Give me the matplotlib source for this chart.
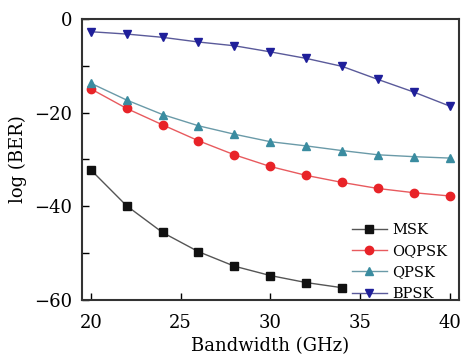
import matplotlib
matplotlib.use("Agg")
import matplotlib.pyplot as plt
from matplotlib.ticker import MultipleLocator

bandwidth = [20, 22, 24, 26, 28, 30, 32, 34, 36, 38, 40]
msk = [-32.2, -39.9, -45.6, -49.7, -52.8, -54.8, -56.3, -57.4]
oqpsk = [-14.9, -19.1, -22.6, -26.0, -29.0, -31.5, -33.4, -34.9, -36.2, -37.1, -37.8]
qpsk = [-13.7, -17.3, -20.4, -22.8, -24.6, -26.2, -27.1, -28.1, -29.0, -29.4, -29.7]
bpsk = [-2.7, -3.2, -3.9, -4.9, -5.7, -7.0, -8.4, -10.1, -12.9, -15.6, -18.6]

plt.rcParams['font.family'] = ['DejaVu Serif']

fig = plt.figure(figsize=(4.62, 3.6), dpi=100)
ax = fig.add_axes([0.177, 0.167, 0.816, 0.780])

series = [
    ("MSK", bandwidth[:len(msk)], msk, 's', '#111111', '#555555'),
    ("OQPSK", bandwidth, oqpsk, 'o', '#e82328', '#e85a5e'),
    ("QPSK", bandwidth, qpsk, '^', '#3a8ca0', '#6a9aa8'),
    ("BPSK", bandwidth, bpsk, 'v', '#1f1f9a', '#5a5a9a'),
]
for name, xs, ys, mk, mc, lc in series:
    ax.plot(xs, ys, color=lc, lw=1.0, marker=mk, markersize=6,
            markerfacecolor=mc, markeredgecolor=mc, label=name)

ax.set_xlim(19.5, 40.5)
ax.set_ylim(-60, 0)
ax.xaxis.set_major_locator(MultipleLocator(5))
ax.yaxis.set_major_locator(MultipleLocator(20))
ax.yaxis.set_minor_locator(MultipleLocator(10))
ax.tick_params(which='both', direction='in', length=5, width=1, labelsize=13)
ax.tick_params(axis='x', pad=10)
ax.tick_params(axis='y', pad=7)
for s in ax.spines.values():
    s.set_linewidth(1.5)
    s.set_color('#333333')

ax.set_xlabel("Bandwidth (GHz)", fontsize=13, labelpad=4)
ax.set_ylabel("log (BER)", fontsize=13, labelpad=5)

ax.legend(loc='lower right', bbox_to_anchor=(1.005, -0.05), frameon=False,
          fontsize=10.5, handlelength=2.4, handletextpad=0.4, labelspacing=0.5)

fig.savefig("out.png", dpi=100)
